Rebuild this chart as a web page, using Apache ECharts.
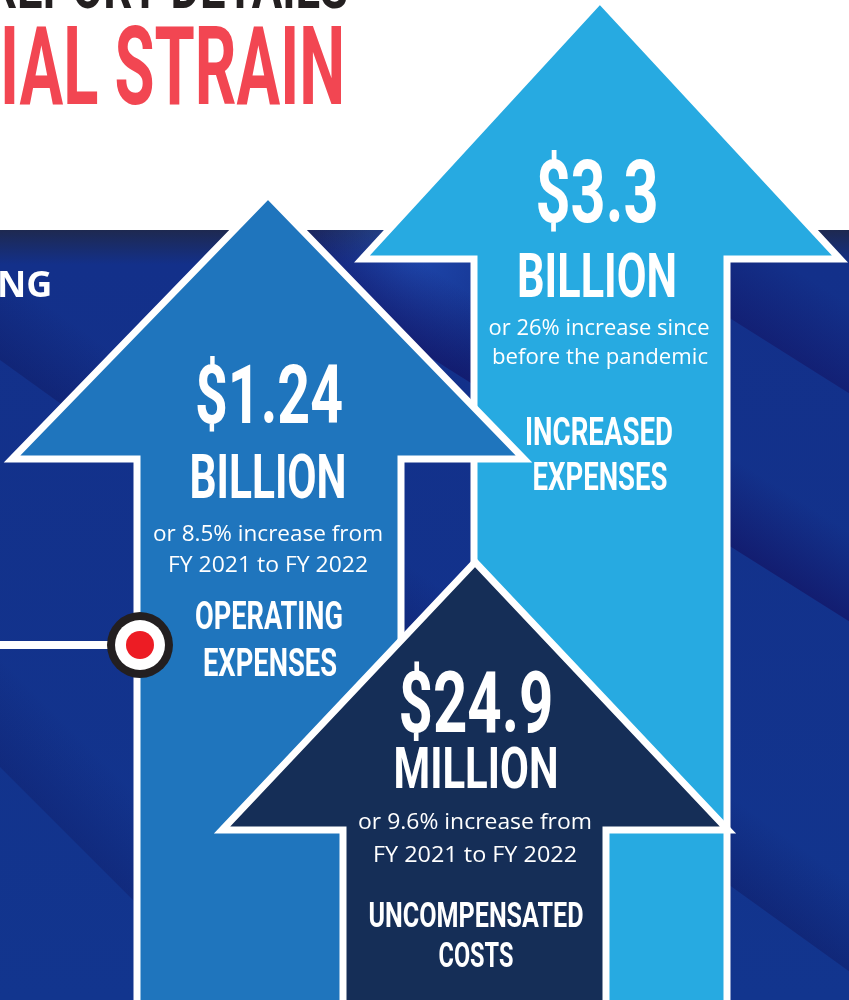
<!DOCTYPE html>
<html><head><meta charset="utf-8">
<script src="https://cdn.jsdelivr.net/npm/echarts@6/dist/echarts.min.js"></script>
<style>html,body{margin:0;padding:0;background:#fff;overflow:hidden}#c{width:849px;height:1000px}</style>
</head><body><div id="c"></div>
<script>
// ---- data ----
const categories = [['INCREASED', 'EXPENSES'], ['OPERATING', 'EXPENSES'], ['UNCOMPENSATED', 'COSTS']];
const amounts = ['$3.3', '$1.24', '$24.9'];
const units = ['BILLION', 'BILLION', 'MILLION'];
const notes = [
  ['or 26% increase since', 'before the pandemic'],
  ['or 8.5% increase from', 'FY 2021 to FY 2022'],
  ['or 9.6% increase from', 'FY 2021 to FY 2022']
];
const headerLines = ['REPORT DETAILS', 'IAL STRAIN'];
const sideLabel = 'NG';

// ---- layout (pixel units of hidden axes) ----
const ARROWS = [
  { tip: [600, 0], base: 259, headL: 362, headR: 840, shaftL: 474, shaftR: 727, fill: '#27aae1' },
  { tip: [268, 195], base: 459, headL: 12, headR: 524, shaftL: 137, shaftR: 401, fill: '#1f75bd' },
  { tip: [475, 562], base: 830, headL: 222, headR: 728, shaftL: 343, shaftR: 606, fill: '#152e57' }
];
// [cx, cy(cap centre), capHeight or fontSize, width]
const TEXTPOS = [
  { amount: [597, 191, 62, 123], unit: [597, 276, 43, 160],
    notes: [[599, 326, 21.5, 221], [600, 355, 21.5, 216]],
    cat: [[599, 432, 27, 148], [600, 477, 27, 135]] },
  { amount: [269, 394, 58, 148], unit: [268, 477, 43, 157],
    notes: [[268, 532, 21.5, 230], [268, 563, 21.5, 200]],
    cat: [[269, 616, 27, 148], [270, 663, 27, 134]] },
  { amount: [476, 702, 60, 155], unit: [476, 768, 41, 165],
    notes: [[475, 820, 21.5, 234], [475, 853, 21.5, 204]],
    cat: [[476, 915, 25, 215], [476, 955, 25, 75]] }
];

const CONDENSED = 'Roboto';
const BODY = '"Open Sans"';
const mctx = document.createElement('canvas').getContext('2d');
function measure(text, family, weight, size) {
  mctx.font = weight + ' ' + size + 'px ' + family;
  return mctx.measureText(text).width;
}
function condText(text, x, y, capH, width, color, align) {
  const fs = capH / 0.711;
  const sx = width / measure(text, CONDENSED, 'bold', fs);
  return { type: 'text', x: x, y: y + 0.1 * fs, scaleX: sx,
    style: { text: text, fontFamily: CONDENSED, fontWeight: 'bold', fontSize: fs,
      fill: color || '#fff', align: align || 'center', verticalAlign: 'middle' } };
}
function bodyText(text, x, y, fs, width) {
  const sx = width / measure(text, BODY, 'normal', fs);
  return { type: 'text', x: x, y: y + 3, scaleX: sx,
    style: { text: text, fontFamily: 'Open Sans', fontWeight: 'normal', fontSize: fs,
      fill: '#fff', align: 'center', verticalAlign: 'middle' } };
}

function stripe(x0, y0, m, t, color, alpha) {
  const L2 = 1 + m * m;
  const pts = [[-50, y0 + m * (-50 - x0) - t], [900, y0 + m * (900 - x0) - t],
               [900, y0 + m * (900 - x0)], [-50, y0 + m * (-50 - x0)]];
  return { type: 'polygon', z: -9, shape: { points: pts },
    style: { fill: { type: 'linear', global: true,
      x: x0 + m * t / L2, y: y0 - t / L2, x2: x0, y2: y0,
      colorStops: [{ offset: 0, color: 'rgba(' + color + ',0)' }, { offset: 1, color: 'rgba(' + color + ',' + alpha + ')' }] } } };
}

const chart = echarts.init(document.getElementById('c'), null, { renderer: 'canvas' });

const option = {
  animation: false,
  backgroundColor: '#ffffff',
  grid: { left: 0, right: 0, top: 0, bottom: 0 },
  xAxis: { type: 'value', min: 0, max: 849, show: false },
  yAxis: { type: 'value', min: 0, max: 1000, inverse: true, show: false },
  graphic: [
    { type: 'rect', z: -10, shape: { x: 0, y: 230, width: 849, height: 770 },
      style: { fill: { type: 'linear', x: 0, y: 0, x2: 0, y2: 1, colorStops: [
        { offset: 0, color: '#1e2950' }, { offset: 0.045, color: '#13308a' }, { offset: 1, color: '#12358e' }] } } },
    { type: 'circle', z: -9, shape: { cx: 410, cy: 250, r: 130 },
      style: { fill: { type: 'radial', x: 0.5, y: 0.5, r: 0.5, colorStops: [
        { offset: 0, color: 'rgba(40,90,200,0.55)' }, { offset: 1, color: 'rgba(40,90,200,0)' }] } } },
    stripe(728, 317, 0.63, 90, '18,16,95', 0.5),
    stripe(728, 545, 0.63, 90, '18,12,90', 0.55),
    stripe(0, 360, 0.72, 90, '14,20,90', 0.4),
    stripe(0, 767, 1.0, 110, '14,20,90', 0.3),
    { type: 'rect', z: -8, shape: { x: 0, y: 0, width: 849, height: 230 }, style: { fill: '#ffffff' } },
    Object.assign(condText(headerLines[0], 168, -14, 44, 360, '#231f20'), { z: -7 }),
    Object.assign(condText(headerLines[1], 172.5, 66, 78, 345, '#f24652'), { z: -7 }),
    { type: 'text', z: -7, x: -3, y: 287,
      style: { text: sideLabel, fontFamily: 'Open Sans', fontWeight: 'bold', fontSize: 36, fill: '#ffffff',
        align: 'left', verticalAlign: 'middle' } },
    { type: 'rect', z: 10, shape: { x: -5, y: 641, width: 117, height: 8 }, style: { fill: '#ffffff' } },
    { type: 'circle', z: 11, shape: { cx: 140, cy: 645, r: 33 }, style: { fill: '#231f20' } },
    { type: 'circle', z: 12, shape: { cx: 140, cy: 645, r: 25 }, style: { fill: '#ffffff' } },
    { type: 'circle', z: 13, shape: { cx: 140, cy: 645, r: 14 }, style: { fill: '#ed1c24' } }
  ],
  series: [{
    type: 'custom',
    coordinateSystem: 'cartesian2d',
    clip: false,
    silent: true,
    data: amounts.map((a, i) => ({ name: categories[i].join(' '), value: [i, 0] })),
    renderItem: function (params, api) {
      const i = params.dataIndex;
      const a = ARROWS[i];
      const tp = TEXTPOS[i];
      const P = (x, y) => api.coord([x, y]);
      const pts = [P(a.tip[0], a.tip[1]), P(a.headR, a.base), P(a.shaftR, a.base), P(a.shaftR, 1015),
                   P(a.shaftL, 1015), P(a.shaftL, a.base), P(a.headL, a.base)];
      const children = [{ type: 'polygon', shape: { points: pts },
        style: { fill: a.fill, stroke: '#ffffff', lineWidth: 7, lineJoin: 'miter', miterLimit: 10 } }];
      const put = (spec, fn, text) => { const c = P(spec[0], spec[1]); children.push(fn(text, c[0], c[1], spec[2], spec[3])); };
      put(tp.amount, condText, amounts[i]);
      put(tp.unit, condText, units[i]);
      notes[i].forEach((t, k) => put(tp.notes[k], bodyText, t));
      categories[i].forEach((t, k) => put(tp.cat[k], condText, t));
      return { type: 'group', children: children };
    }
  }]
};
chart.setOption(option);
</script>
</body></html>
